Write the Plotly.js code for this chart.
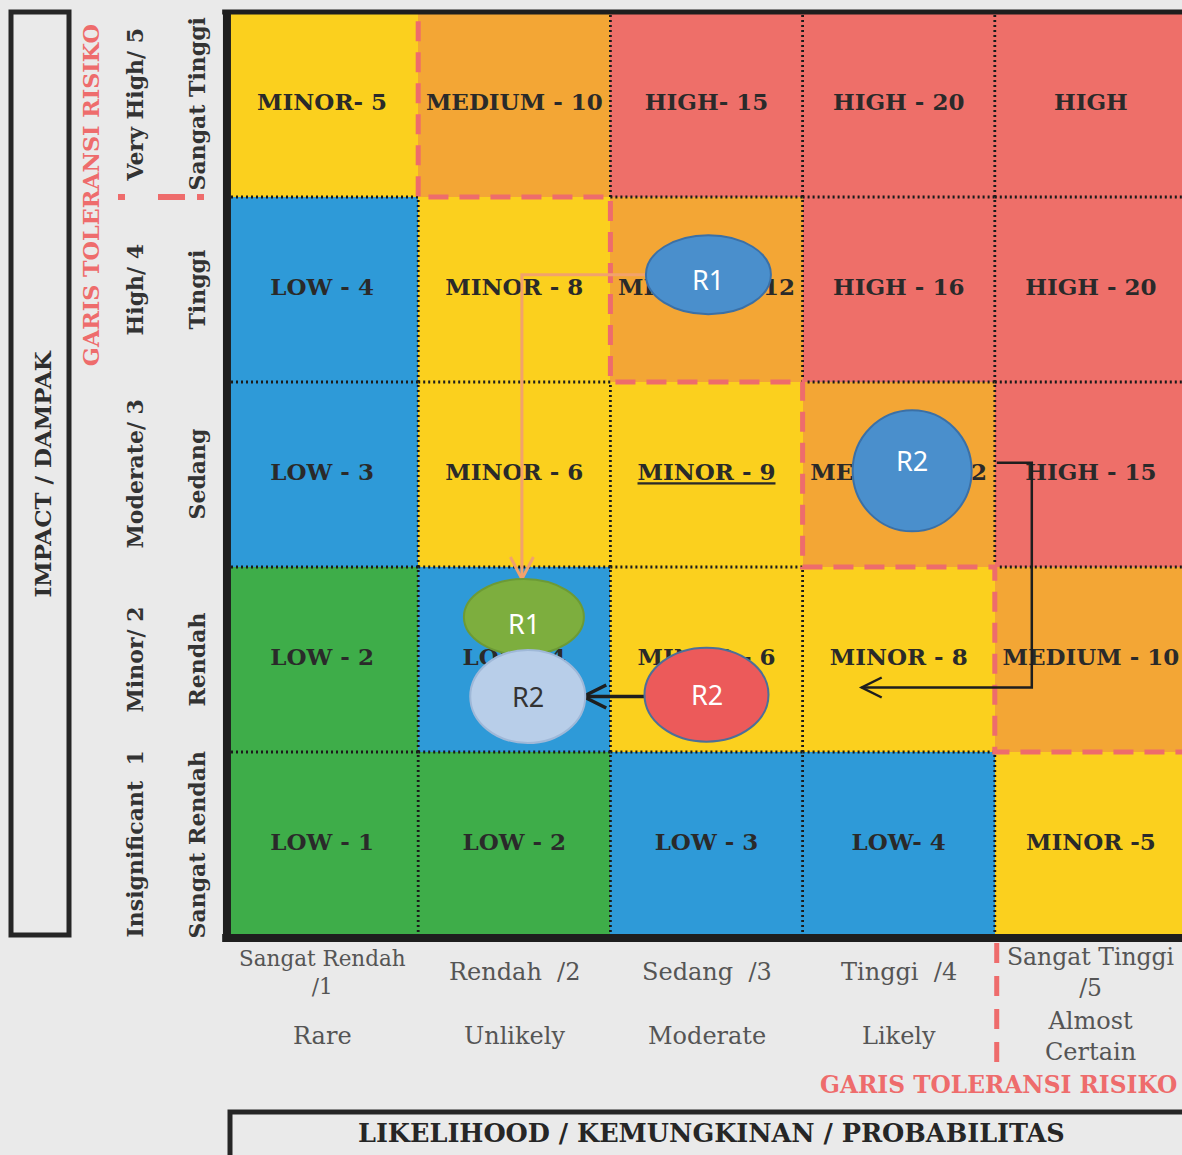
<!DOCTYPE html>
<html><head><meta charset="utf-8">
<script src="https://cdn.plot.ly/plotly-3.0.1.min.js"></script>
<style>html,body{margin:0;padding:0;background:#EAEAEA;overflow:hidden}</style>
</head><body><div id="chart" style="width:1182px;height:1155px"></div>
<script>
// ---------------- DATA ----------------
const likelihoodLevels = [1, 2, 3, 4, 5];
const impactLevels = [1, 2, 3, 4, 5];
const likelihoodLabelsId = ['Sangat Rendah<br>/1', 'Rendah  /2', 'Sedang  /3', 'Tinggi  /4', 'Sangat Tinggi<br>/5'];
const likelihoodLabelsEn = ['Rare', 'Unlikely', 'Moderate', 'Likely', 'Almost<br>Certain'];
const impactLabelsEn = ['Insignificant  1', 'Minor/ 2', 'Moderate/ 3', 'High/ 4', 'Very High/ 5'];
const impactLabelsId = ['Sangat Rendah', 'Rendah', 'Sedang', 'Tinggi', 'Sangat Tinggi'];
// risk class per cell (rows: impact 1..5, cols: likelihood 1..5)
// 0 = green, 1 = blue, 2 = yellow, 3 = orange, 4 = red
const riskClass = [
  [0, 0, 1, 1, 2],
  [0, 1, 2, 2, 3],
  [1, 2, 2, 3, 4],
  [1, 2, 3, 4, 4],
  [2, 3, 4, 4, 4]
];
const cellLabels = [
  ['LOW - 1', 'LOW - 2', 'LOW - 3', 'LOW- 4', 'MINOR -5'],
  ['LOW - 2', 'LOW - 4', 'MINOR - 6', 'MINOR - 8', 'MEDIUM - 10'],
  ['LOW - 3', 'MINOR - 6', '<u>MINOR - 9</u>', 'MEDIUM - 12', 'HIGH - 15'],
  ['LOW - 4', 'MINOR - 8', 'MEDIUM - 12', 'HIGH - 16', 'HIGH - 20'],
  ['MINOR- 5', 'MEDIUM - 10', 'HIGH- 15', 'HIGH - 20', 'HIGH']
];
// risk tolerance: highest acceptable impact per likelihood column
const toleranceImpact = [5, 4, 3, 2, 1];
// plotted risks
const riskNames = ['R1', 'R2', 'R1', 'R2', 'R2'];
const riskLikelihood = [3.01, 4.07, 2.05, 2.07, 3.00];
const riskImpact = [4.08, 3.02, 2.23, 1.80, 1.81];
const toleranceTitle = 'GARIS TOLERANSI RISIKO';
const impactTitle = 'IMPACT / DAMPAK';
const likelihoodTitle = 'LIKELIHOOD / KEMUNGKINAN / PROBABILITAS';

// ---------------- STYLE ----------------
const classColors = ['#3EAD49', '#2E9AD8', '#FBD01E', '#F3A635', '#EE6F69'];
const riskFill = ['#4A8FCC', '#4A8FCC', '#7DAE3E', '#B8CEE9', '#EC5A5A'];
const riskLine = ['#3B70A6', '#3B70A6', '#6C9A36', '#9FB8D8', '#4D6F98'];
const riskTextColor = ['#FFFFFF', '#FFFFFF', '#FFFFFF', '#333333', '#FFFFFF'];
const riskSize = [[125, 79], [119, 121], [120, 76], [115, 93], [124, 94]];
const riskTextShift = [-5, 10, -7, 0, 0];
const likelihoodIdSize = [21.5, 24, 24, 24, 23.5];
const TOL_RED = '#EE6C6C';
const SERIF = 'DejaVu Serif';

const W = 1182, H = 1155;
const ML = 226, MT = 12, MB = 218;
const plotW = W - ML, plotH = H - MT - MB;
const CW = 192.2, RH = plotH / 5;
const xRange = [0.5, 0.5 + plotW / CW];
const px = x => ML + (x - 0.5) * CW;
const py = y => MT + (5.5 - y) * RH;
const ix = p => 0.5 + (p - ML) / CW;
const iy = p => 5.5 - (p - MT) / RH;
const paperX = p => (p - ML) / plotW;
const paperY = p => (MT + plotH - p) / plotH;

// ---------------- TRACES ----------------
const n = classColors.length;
const colorscale = [];
classColors.forEach((c, i) => { colorscale.push([i / n, c]); colorscale.push([(i + 1) / n, c]); });

const heat = {
  type: 'heatmap', x: likelihoodLevels, y: impactLevels, z: riskClass,
  colorscale: colorscale, zmin: -0.5, zmax: n - 0.5, showscale: false, hoverinfo: 'skip'
};

// tolerance staircase segments
const tolSegs = [];
for (let c = 1; c < likelihoodLevels.length; c++) {
  const xb = likelihoodLevels[c] - 0.5;
  tolSegs.push({ v: true, pos: xb, a: toleranceImpact[c] + 0.5, b: toleranceImpact[c - 1] + 0.5 });
  tolSegs.push({ v: false, pos: toleranceImpact[c] + 0.5, a: xb, b: xb + 1 });
}
function onTol(v, pos, a, b) {
  return tolSegs.some(s => s.v === v && Math.abs(s.pos - pos) < 1e-6 &&
    Math.min(s.a, s.b) <= a + 1e-6 && Math.max(s.a, s.b) >= b - 1e-6);
}
// dotted grid
const gx = [], gy = [];
for (let k = 1; k < 5; k++) {
  const b = k + 0.5;
  for (let j = 0; j < 5; j++) {
    const a0 = j + 0.5, a1 = j + 1.5;
    if (!onTol(true, b, a0, a1)) { gx.push(b, b, null); gy.push(a0, a1, null); }
    if (!onTol(false, b, a0, a1)) { gx.push(a0, a1, null); gy.push(b, b, null); }
  }
}
const grid = {
  type: 'scatter', mode: 'lines', x: gx, y: gy, hoverinfo: 'skip',
  line: { color: '#1A1A1A', width: 2.8, dash: '2px,3px' }
};

const tx = [], ty = [], tt = [];
impactLevels.forEach((im, r) => likelihoodLevels.forEach((lk, c) => {
  tx.push(lk); ty.push(im); tt.push(cellLabels[r][c]);
}));
const cellText = {
  type: 'scatter', mode: 'text', x: tx, y: ty, text: tt, hoverinfo: 'skip',
  textposition: 'middle center',
  textfont: { family: SERIF, size: 23, color: '#2A2A2A', weight: 700 }
};

const tolX = [likelihoodLevels[0] + 0.5], tolY = [toleranceImpact[0] + 0.45];
for (let c = 1; c < likelihoodLevels.length; c++) {
  const xb = likelihoodLevels[c] - 0.5;
  tolX.push(xb, xb + 1); tolY.push(toleranceImpact[c] + 0.5, toleranceImpact[c] + 0.5);
}
const tolLine = {
  type: 'scatter', mode: 'lines', x: tolX, y: tolY, hoverinfo: 'skip',
  line: { color: TOL_RED, width: 5, dash: '20px,11px' }
};

// ---------------- SHAPES ----------------
const shapes = [];
function pathFromPx(pts) {
  return pts.map((p, i) => (i ? 'L' : 'M') + ix(p[0]) + ',' + iy(p[1])).join(' ');
}
function arrow(pts, color, width, L, Wd) {
  shapes.push({ type: 'path', xref: 'x', yref: 'y', layer: 'above', path: pathFromPx(pts),
    line: { color: color, width: width } });
  const tip = pts[pts.length - 1], prev = pts[pts.length - 2];
  let dx = tip[0] - prev[0], dy = tip[1] - prev[1];
  const len = Math.hypot(dx, dy); dx /= len; dy /= len;
  const bx = tip[0] - L * dx, by = tip[1] - L * dy;
  const a1 = [bx - Wd * dy, by + Wd * dx], a2 = [bx + Wd * dy, by - Wd * dx];
  shapes.push({ type: 'path', xref: 'x', yref: 'y', layer: 'above', path: pathFromPx([a1, tip, a2]),
    line: { color: color, width: width } });
}
const rpx = i => [px(riskLikelihood[i]), py(riskImpact[i])];
// R1: inherent -> residual
{
  const a = rpx(0), b = rpx(2);
  arrow([[a[0] - riskSize[0][0] / 2 + 4, a[1]], [b[0] - 2, a[1]], [b[0] - 2, b[1] - riskSize[2][1] / 2]],
    '#F2A26C', 3, 22, 11.5);
}
// R2: from high cell around to likelihood 4 / impact 2
{
  const a = rpx(1);
  const xEdge = px(likelihoodLevels[3] + 0.5);
  const yLow = py(impactLevels[1]) + 28;
  arrow([[xEdge + 2, a[1] - 8], [xEdge + 37, a[1] - 8], [xEdge + 37, yLow],
    [px(likelihoodLevels[3]) - 37, yLow]], '#1E1E1E', 2.5, 20, 10);
}
// R2: red -> light blue
{
  const a = rpx(4), b = rpx(3);
  arrow([[a[0] - riskSize[4][0] / 2 + 4, b[1]], [b[0] + riskSize[3][0] / 2 - 2, b[1]]],
    '#1E1E1E', 3.5, 23, 11.5);
}
// ellipses
riskNames.forEach((nm, i) => {
  shapes.push({ type: 'circle', xref: 'x', yref: 'y', layer: 'above',
    xsizemode: 'pixel', ysizemode: 'pixel',
    xanchor: riskLikelihood[i], yanchor: riskImpact[i],
    x0: -riskSize[i][0] / 2, x1: riskSize[i][0] / 2, y0: -riskSize[i][1] / 2, y1: riskSize[i][1] / 2,
    fillcolor: riskFill[i], line: { color: riskLine[i], width: 2 } });
});
// outer border of the matrix
shapes.push({ type: 'line', xref: 'paper', yref: 'paper', x0: -0.004, x1: 1, y0: 1, y1: 1, line: { color: '#1E1E1E', width: 5 } });
shapes.push({ type: 'line', xref: 'paper', yref: 'paper', x0: 0.001, x1: 0.001, y0: 1, y1: 0, line: { color: '#1E1E1E', width: 8 } });
shapes.push({ type: 'line', xref: 'paper', yref: 'paper', x0: -0.004, x1: 1, y0: -0.001, y1: -0.001, line: { color: '#1E1E1E', width: 8 } });
// title boxes
shapes.push({ type: 'rect', xref: 'paper', yref: 'paper', x0: paperX(11), x1: paperX(69), y0: paperY(12), y1: paperY(935),
  line: { color: '#262626', width: 5 } });
shapes.push({ type: 'rect', xref: 'paper', yref: 'paper', x0: paperX(230), x1: paperX(1200), y0: paperY(1112), y1: paperY(1175),
  line: { color: '#262626', width: 5 } });
// tolerance line extensions outside the matrix
shapes.push({ type: 'line', xref: 'paper', yref: 'y', x0: paperX(118), x1: paperX(224),
  y0: toleranceImpact[1] + 0.5, y1: toleranceImpact[1] + 0.5, line: { color: TOL_RED, width: 6, dash: '7px,33px,27px,12px' } });
shapes.push({ type: 'line', xref: 'x', yref: 'paper', x0: likelihoodLevels[4] - 0.49, x1: likelihoodLevels[4] - 0.49,
  y0: paperY(943), y1: paperY(1068), line: { color: TOL_RED, width: 5, dash: '20px,13px' } });

// ---------------- ANNOTATIONS ----------------
const ann = [];
riskNames.forEach((nm, i) => ann.push({ x: riskLikelihood[i], y: riskImpact[i], xref: 'x', yref: 'y',
  text: nm, showarrow: false, yshift: riskTextShift[i],
  font: { family: 'Noto Sans', size: 27, color: riskTextColor[i] } }));
const boldSerif = (s, c) => ({ family: SERIF, size: s, color: c, weight: 700 });
const A = o => Object.assign({ showarrow: false, xanchor: 'center', yanchor: 'middle' }, o);
ann.push(A({ xref: 'paper', yref: 'y', x: paperX(42), y: 3, text: impactTitle, textangle: -90,
  font: boldSerif(23, '#2E2E2E') }));
ann.push(A({ xref: 'paper', yref: 'y', x: paperX(91), y: toleranceImpact[1] + 0.51, text: toleranceTitle, textangle: -90,
  font: boldSerif(22.3, TOL_RED) }));
impactLevels.forEach((lv, i) => {
  ann.push(A({ xref: 'paper', yref: 'y', x: paperX(134), y: lv, text: impactLabelsEn[i], textangle: -90,
    font: boldSerif(22, '#333333') }));
  ann.push(A({ xref: 'paper', yref: 'y', x: paperX(196), y: lv, text: impactLabelsId[i], textangle: -90,
    font: boldSerif(22, '#333333') }));
});
likelihoodLevels.forEach((lv, i) => {
  ann.push(A({ xref: 'x', yref: 'paper', x: lv, y: paperY(972), text: likelihoodLabelsId[i],
    font: { family: SERIF, size: likelihoodIdSize[i], color: '#555555' } }));
  ann.push(A({ xref: 'x', yref: 'paper', x: lv, y: paperY(1036), text: likelihoodLabelsEn[i],
    font: { family: SERIF, size: 24, color: '#555555' } }));
});
ann.push(A({ xref: 'x', yref: 'paper', x: likelihoodLevels[4] - 0.48, y: paperY(1084), text: toleranceTitle,
  font: boldSerif(23.3, TOL_RED) }));
ann.push(A({ xref: 'paper', yref: 'paper', x: paperX(711), y: paperY(1133), text: likelihoodTitle,
  font: boldSerif(25.5, '#262626') }));

const layout = {
  width: W, height: H,
  margin: { l: ML, r: 0, t: MT, b: MB, pad: 0 },
  paper_bgcolor: '#EAEAEA', plot_bgcolor: '#EAEAEA',
  showlegend: false,
  xaxis: { range: xRange, showgrid: false, zeroline: false, showticklabels: false, ticks: '', showline: false, fixedrange: true },
  yaxis: { range: [0.5, 5.5], showgrid: false, zeroline: false, showticklabels: false, ticks: '', showline: false, fixedrange: true },
  shapes: shapes,
  annotations: ann
};
Plotly.newPlot('chart', [heat, grid, cellText, tolLine], layout, { displayModeBar: false, staticPlot: true });
</script></body></html>
